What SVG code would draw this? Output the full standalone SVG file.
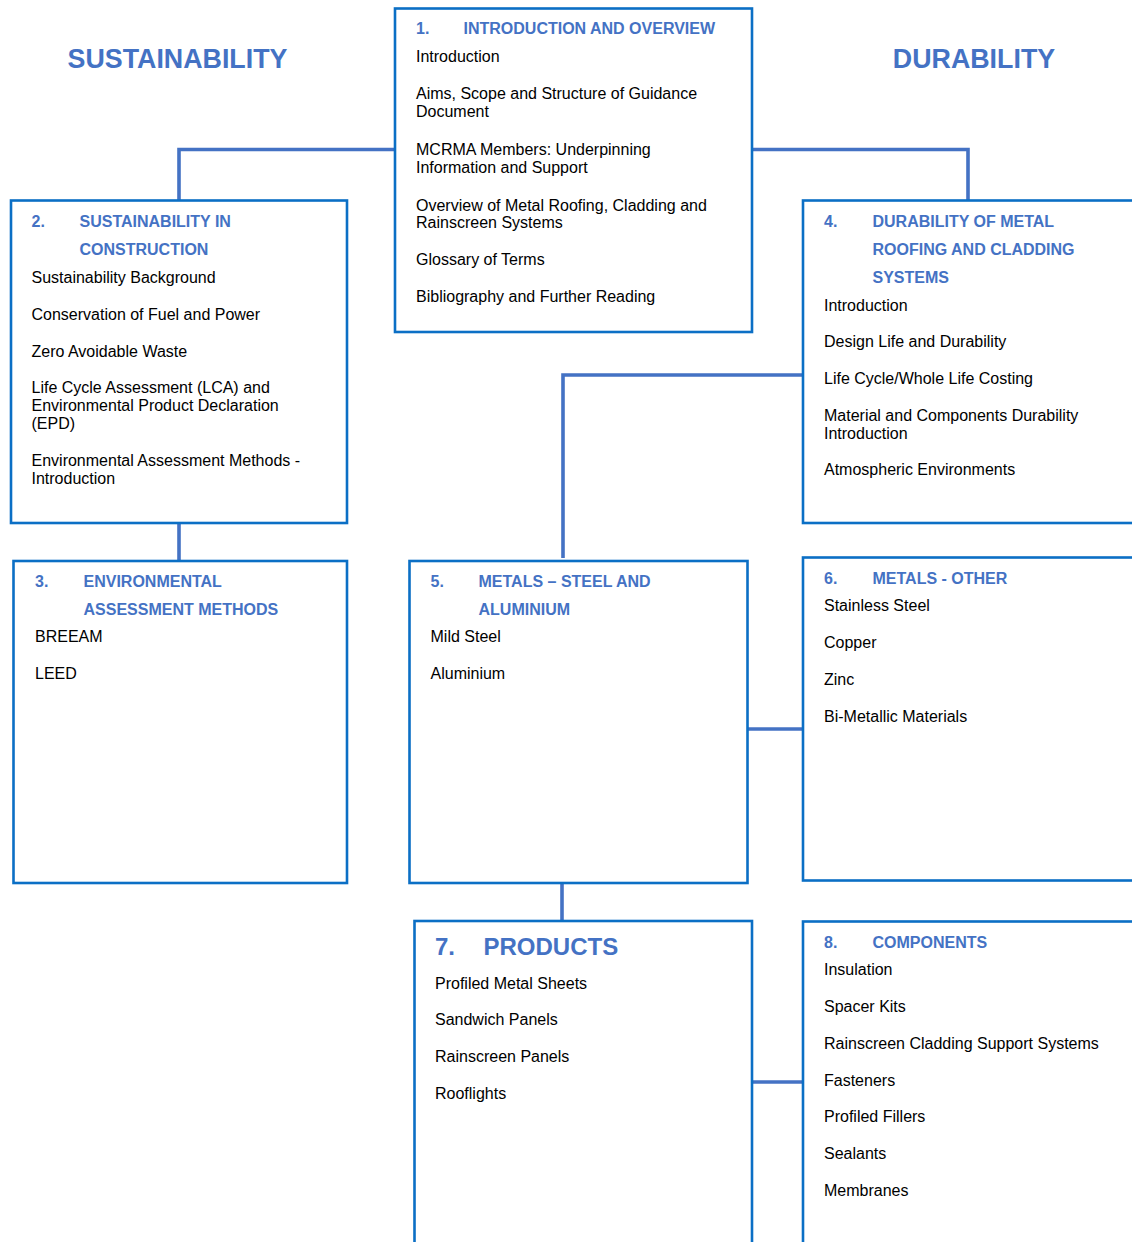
<svg xmlns="http://www.w3.org/2000/svg" width="1132" height="1242" viewBox="0 0 1132 1242">
<style>
.box{fill:#fff;stroke:#0B6FC5;stroke-width:2.6}
.con{fill:none;stroke:#4472C4;stroke-width:3.6}
.t{font-family:"Liberation Sans",Arial,sans-serif;font-size:16px;fill:#000}
.h{font-family:"Liberation Sans",Arial,sans-serif;font-size:16px;font-weight:bold;fill:#4472C4}
.big{font-family:"Liberation Sans",Arial,sans-serif;font-size:26.8px;font-weight:bold;fill:#4472C4}
.h7{font-family:"Liberation Sans",Arial,sans-serif;font-size:24px;font-weight:bold;fill:#4472C4}
</style>
<rect width="1132" height="1242" fill="#fff"/>
<g id="connectors">
<path class="con" d="M395 149.5 H179 V200"/>
<path class="con" d="M752 149.5 H968 V200"/>
<path class="con" d="M179 523 V561"/>
<path class="con" d="M803 375 H563 V558"/>
<path class="con" d="M747 729 H803"/>
<path class="con" d="M562 883 V921"/>
<path class="con" d="M752 1082 H803"/>
</g>
<g id="headings">
<text class="big" x="177.5" y="68" text-anchor="middle">SUSTAINABILITY</text>
<text class="big" x="974" y="68" text-anchor="middle">DURABILITY</text>
</g>
<g id="node1">
<rect class="box" x="395" y="8.5" width="357" height="323.5"/>
<text class="h" x="416" y="34">1.</text>
<text class="h" x="463.5" y="34">INTRODUCTION AND OVERVIEW</text>
<text class="t" x="416" y="62">Introduction</text>
<text class="t" x="416" y="99">Aims, Scope and Structure of Guidance</text>
<text class="t" x="416" y="116.5">Document</text>
<text class="t" x="416" y="155">MCRMA Members: Underpinning</text>
<text class="t" x="416" y="172.5">Information and Support</text>
<text class="t" x="416" y="210.5">Overview of Metal Roofing, Cladding and</text>
<text class="t" x="416" y="228">Rainscreen Systems</text>
<text class="t" x="416" y="265">Glossary of Terms</text>
<text class="t" x="416" y="301.5">Bibliography and Further Reading</text>
</g>
<g id="node2">
<rect class="box" x="11" y="200.5" width="336" height="322.5"/>
<text class="h" x="31.5" y="227">2.</text>
<text class="h" x="79.5" y="227">SUSTAINABILITY IN</text>
<text class="h" x="79.5" y="254.5">CONSTRUCTION</text>
<text class="t" x="31.5" y="283">Sustainability Background</text>
<text class="t" x="31.5" y="320">Conservation of Fuel and Power</text>
<text class="t" x="31.5" y="356.5">Zero Avoidable Waste</text>
<text class="t" x="31.5" y="392.5">Life Cycle Assessment (LCA) and</text>
<text class="t" x="31.5" y="410.5">Environmental Product Declaration</text>
<text class="t" x="31.5" y="428.5">(EPD)</text>
<text class="t" x="31.5" y="466">Environmental Assessment Methods -</text>
<text class="t" x="31.5" y="484">Introduction</text>
</g>
<g id="node4">
<rect class="box" x="803" y="200.5" width="340" height="322.5"/>
<text class="h" x="824" y="227">4.</text>
<text class="h" x="872.5" y="227">DURABILITY OF METAL</text>
<text class="h" x="872.5" y="254.5">ROOFING AND CLADDING</text>
<text class="h" x="872.5" y="282.5">SYSTEMS</text>
<text class="t" x="824" y="310.5">Introduction</text>
<text class="t" x="824" y="346.5">Design Life and Durability</text>
<text class="t" x="824" y="383.5">Life Cycle/Whole Life Costing</text>
<text class="t" x="824" y="420.5">Material and Components Durability</text>
<text class="t" x="824" y="439">Introduction</text>
<text class="t" x="824" y="475">Atmospheric Environments</text>
</g>
<g id="node3">
<rect class="box" x="13.5" y="561" width="333.5" height="322"/>
<text class="h" x="35" y="587">3.</text>
<text class="h" x="83.5" y="587">ENVIRONMENTAL</text>
<text class="h" x="83.5" y="615">ASSESSMENT METHODS</text>
<text class="t" x="35" y="642">BREEAM</text>
<text class="t" x="35" y="679">LEED</text>
</g>
<g id="node5">
<rect class="box" x="409.5" y="561" width="338" height="322"/>
<text class="h" x="430.5" y="587">5.</text>
<text class="h" x="478.5" y="587">METALS – STEEL AND</text>
<text class="h" x="478.5" y="615">ALUMINIUM</text>
<text class="t" x="430.5" y="642">Mild Steel</text>
<text class="t" x="430.5" y="679">Aluminium</text>
</g>
<g id="node6">
<rect class="box" x="803" y="557.5" width="340" height="323"/>
<text class="h" x="824" y="584">6.</text>
<text class="h" x="872.5" y="584">METALS - OTHER</text>
<text class="t" x="824" y="611">Stainless Steel</text>
<text class="t" x="824" y="648">Copper</text>
<text class="t" x="824" y="685">Zinc</text>
<text class="t" x="824" y="722">Bi-Metallic Materials</text>
</g>
<g id="node7">
<rect class="box" x="414.5" y="921" width="337.5" height="340"/>
<text class="h7" x="435" y="955">7.</text>
<text class="h7" x="483.5" y="955">PRODUCTS</text>
<text class="t" x="435" y="989">Profiled Metal Sheets</text>
<text class="t" x="435" y="1025">Sandwich Panels</text>
<text class="t" x="435" y="1062">Rainscreen Panels</text>
<text class="t" x="435" y="1099">Rooflights</text>
</g>
<g id="node8">
<rect class="box" x="803" y="921.5" width="340" height="340"/>
<text class="h" x="824" y="948">8.</text>
<text class="h" x="872.5" y="948">COMPONENTS</text>
<text class="t" x="824" y="975">Insulation</text>
<text class="t" x="824" y="1012">Spacer Kits</text>
<text class="t" x="824" y="1049">Rainscreen Cladding Support Systems</text>
<text class="t" x="824" y="1085.5">Fasteners</text>
<text class="t" x="824" y="1122">Profiled Fillers</text>
<text class="t" x="824" y="1159">Sealants</text>
<text class="t" x="824" y="1196">Membranes</text>
</g>
</svg>
